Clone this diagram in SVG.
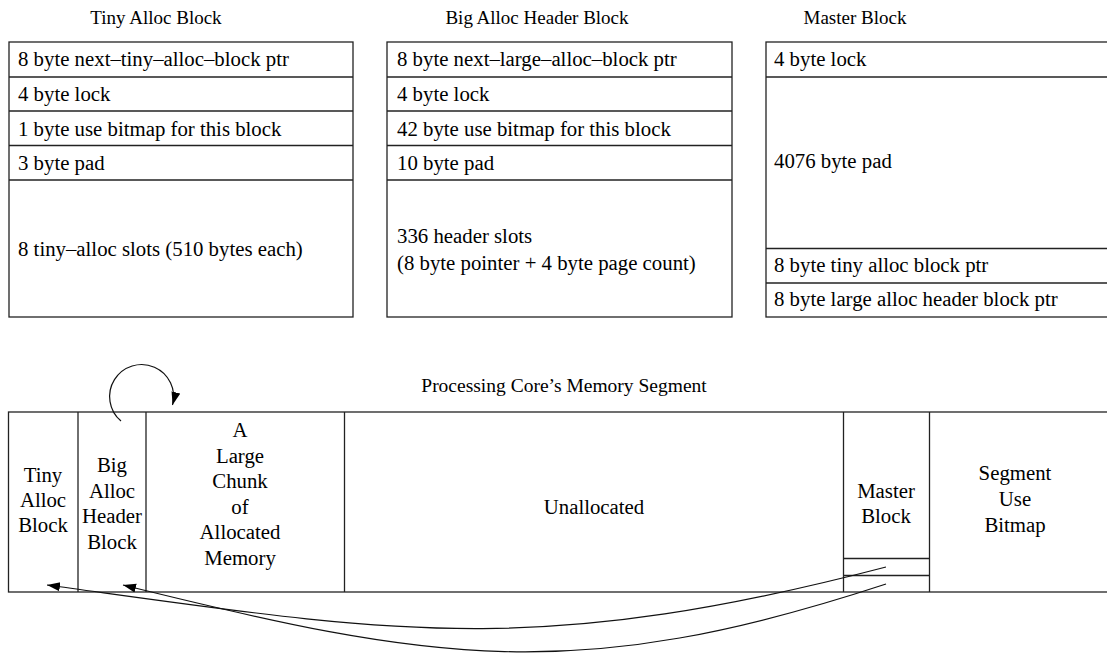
<svg xmlns="http://www.w3.org/2000/svg" width="1107" height="653" viewBox="0 0 1107 653">
  <style>
    text { font-family: "Liberation Serif", "Times New Roman", serif; font-size: 20.8px; fill: #000; }
    .title { font-size: 19px; text-anchor: middle; }
    .c { text-anchor: middle; }
    .box { fill: #fff; stroke: #222; stroke-width: 1.3; }
    .ln { stroke: #222; stroke-width: 1.3; fill: none; }
    .wire { stroke: #111; stroke-width: 1.2; fill: none; }
  </style>
  <defs>
    <marker id="arrow" markerUnits="userSpaceOnUse" markerWidth="14" markerHeight="10" refX="13" refY="4.5" orient="auto">
      <path d="M0,0 L13,4.5 L0,9 z" fill="#000"/>
    </marker>
  </defs>
  <rect width="1107" height="653" fill="#fff"/>

  <!-- block layouts -->
  <g id="tiny-alloc-block">
    <text class="title" x="156" y="24">Tiny Alloc Block</text>
    <rect class="box" x="9" y="42" width="344" height="275"/>
    <line class="ln" x1="9" y1="77" x2="353" y2="77"/>
    <line class="ln" x1="9" y1="111" x2="353" y2="111"/>
    <line class="ln" x1="9" y1="145.5" x2="353" y2="145.5"/>
    <line class="ln" x1="9" y1="180" x2="353" y2="180"/>
    <text x="18" y="66">8 byte next–tiny–alloc–block ptr</text>
    <text x="18" y="101">4 byte lock</text>
    <text x="18" y="135.5">1 byte use bitmap for this block</text>
    <text x="18" y="170">3 byte pad</text>
    <text x="18" y="256">8 tiny–alloc slots (510 bytes each)</text>
  </g>

  <g id="big-alloc-header-block">
    <text class="title" x="537" y="24">Big Alloc Header Block</text>
    <rect class="box" x="387" y="42" width="345" height="275"/>
    <line class="ln" x1="387" y1="77" x2="732" y2="77"/>
    <line class="ln" x1="387" y1="111" x2="732" y2="111"/>
    <line class="ln" x1="387" y1="145.5" x2="732" y2="145.5"/>
    <line class="ln" x1="387" y1="180" x2="732" y2="180"/>
    <text x="397" y="66">8 byte next–large–alloc–block ptr</text>
    <text x="397" y="101">4 byte lock</text>
    <text x="397" y="135.5">42 byte use bitmap for this block</text>
    <text x="397" y="170">10 byte pad</text>
    <text x="397" y="243">336 header slots</text>
    <text x="397" y="270">(8 byte pointer + 4 byte page count)</text>
  </g>

  <g id="master-block">
    <text class="title" x="855" y="24">Master Block</text>
    <rect class="box" x="766" y="42" width="350" height="275"/>
    <line class="ln" x1="766" y1="77" x2="1110" y2="77"/>
    <line class="ln" x1="766" y1="248.5" x2="1110" y2="248.5"/>
    <line class="ln" x1="766" y1="283" x2="1110" y2="283"/>
    <text x="774" y="66">4 byte lock</text>
    <text x="774" y="168">4076 byte pad</text>
    <text x="774" y="272">8 byte tiny alloc block ptr</text>
    <text x="774" y="306">8 byte large alloc header block ptr</text>
  </g>

  <!-- memory segment strip -->
  <g id="memory-segment">
    <text class="c" x="564" y="392" style="font-size:19.5px">Processing Core’s Memory Segment</text>
    <rect class="box" x="8.5" y="412" width="1110" height="180"/>
  </g>

  <g id="seg-tiny">
    <line class="ln" x1="78" y1="412" x2="78" y2="592"/>
    <text class="c" x="43" y="482">Tiny</text>
    <text class="c" x="43" y="507">Alloc</text>
    <text class="c" x="43" y="532">Block</text>
  </g>

  <g id="seg-big">
    <line class="ln" x1="146" y1="412" x2="146" y2="592"/>
    <text class="c" x="112" y="472">Big</text>
    <text class="c" x="112" y="497.5">Alloc</text>
    <text class="c" x="112" y="523">Header</text>
    <text class="c" x="112" y="548.5">Block</text>
  </g>

  <g id="seg-chunk">
    <line class="ln" x1="344.5" y1="412" x2="344.5" y2="592"/>
    <text class="c" x="240" y="437">A</text>
    <text class="c" x="240" y="462.5">Large</text>
    <text class="c" x="240" y="488">Chunk</text>
    <text class="c" x="240" y="513.5">of</text>
    <text class="c" x="240" y="539">Allocated</text>
    <text class="c" x="240" y="564.5">Memory</text>
  </g>

  <g id="seg-unallocated">
    <text class="c" x="594" y="514">Unallocated</text>
  </g>

  <g id="seg-master">
    <line class="ln" x1="843.5" y1="412" x2="843.5" y2="592"/>
    <line class="ln" x1="929.5" y1="412" x2="929.5" y2="592"/>
    <line class="ln" x1="843.5" y1="558.5" x2="929.5" y2="558.5"/>
    <line class="ln" x1="843.5" y1="575.5" x2="929.5" y2="575.5"/>
    <text class="c" x="886" y="498">Master</text>
    <text class="c" x="886" y="523">Block</text>
  </g>

  <g id="seg-bitmap">
    <text class="c" x="1015" y="480">Segment</text>
    <text class="c" x="1015" y="506">Use</text>
    <text class="c" x="1015" y="531.5">Bitmap</text>
  </g>

  <!-- pointers -->
  <g id="connectors">
    <path class="wire" d="M121,421 A32,32 0 1 1 172.5,405" marker-end="url(#arrow)"/>
    <path class="wire" d="M886,567 C530,660 390,632 47,585" marker-end="url(#arrow)"/>
    <path class="wire" d="M886,584 C576,686 433,662 123,585" marker-end="url(#arrow)"/>
  </g>
</svg>
